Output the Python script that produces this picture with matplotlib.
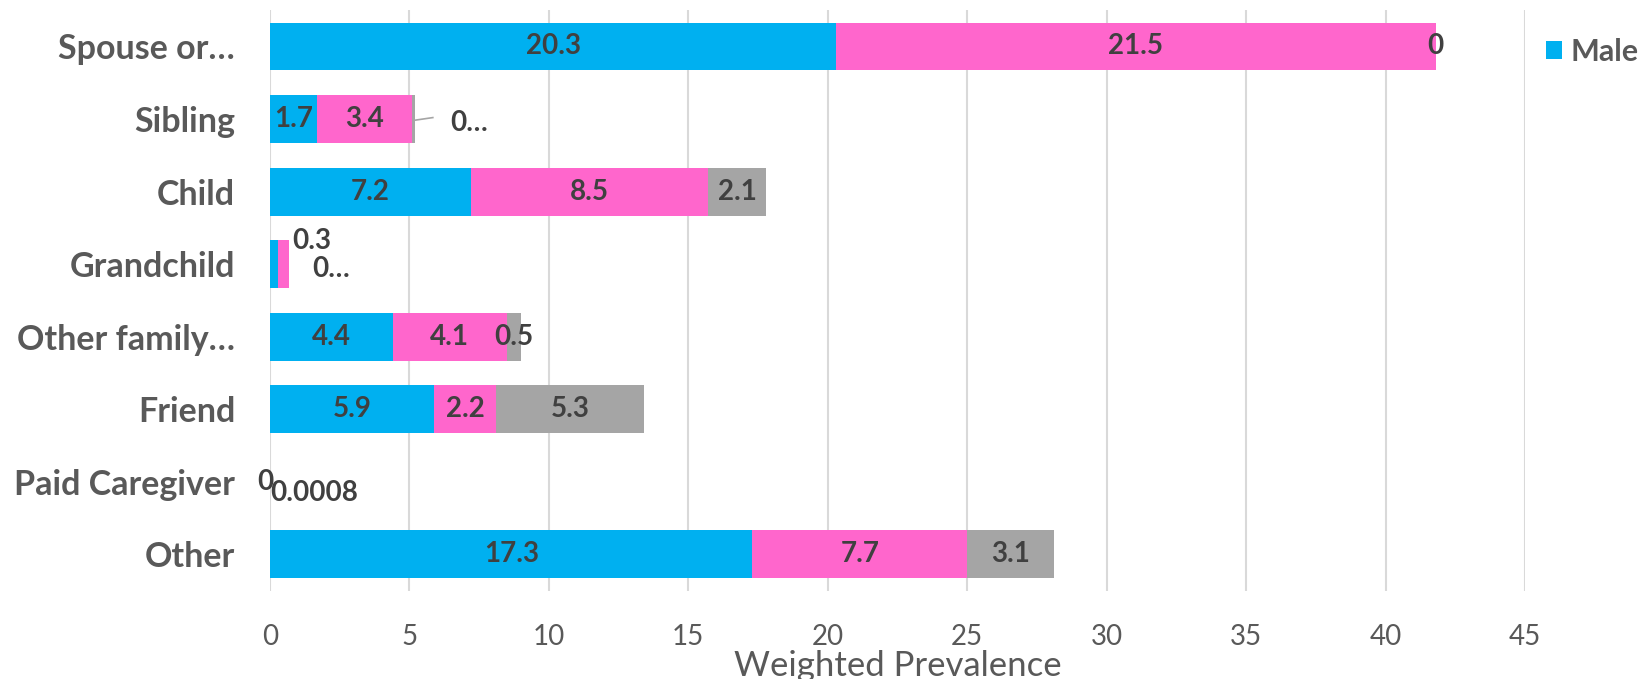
import numpy as np
import matplotlib
matplotlib.use("Agg")
from matplotlib import pyplot as plt

# data
categories = ["Spouse or…", "Sibling", "Child", "Grandchild", "Other family…",
              "Friend", "Paid Caregiver", "Other"]
male = [20.3, 1.7, 7.2, 0.3, 4.4, 5.9, 0.0, 17.3]
female = [21.5, 3.4, 8.5, 0.4, 4.1, 2.2, 0.0008, 7.7]
unknown = [0.0, 0.1, 2.1, 0.0, 0.5, 5.3, 0.0, 3.1]
series_names = ["Male", "Female", "Unknown"]
x_ticks = [0, 5, 10, 15, 20, 25, 30, 35, 40, 45]

colors = ["#00B0F0", "#FF66CC", "#A5A5A5"]
txt_col = "#404040"
tick_col = "#595959"

plt.rcParams['font.family'] = ['Lato', 'DejaVu Sans']

fig = plt.figure(figsize=(16.49, 6.79), dpi=100)
ax = fig.add_axes([0.1637, 0.130, 0.7611, 0.855])

y = np.arange(len(categories))
left = np.zeros(len(categories))
handles = []
for vals, c, name in zip([male, female, unknown], colors, series_names):
    vals = np.array(vals)
    h = ax.barh(y, vals, left=left, height=0.66, color=c, label=name, zorder=3)
    handles.append(h)
    left = left + vals

lab_kw = dict(fontsize=20, fontweight="bold", color=txt_col)

# labels inside the segments (skip the tiny ones, handled below)
special = {1: [2], 3: [0, 1, 2], 6: [0, 1, 2]}
left = np.zeros(len(categories))
for k, vals in enumerate([male, female, unknown]):
    for i, v in enumerate(vals):
        if i in special and k in special[i]:
            continue
        ax.text(left[i] + v / 2, i, f"{v:g}", ha="center", va="center",
                zorder=4, **lab_kw)
    left = left + np.array(vals)

# small labels placed outside
ax.plot([5.13, 5.84], [1.02, 0.98], color="#A5A5A5", lw=1.2, zorder=4)
ax.text(6.45, 1.05, "0…", ha="left", va="center", **lab_kw)
ax.text(0.79, 3 - 0.32, "0.3", ha="left", va="center", **lab_kw)
ax.text(1.5, 3 + 0.07, "0…", ha="left", va="center", **lab_kw)
ax.text(-0.18, 6, "0", ha="center", va="center", **lab_kw)
ax.text(0.0, 6 + 0.15, "0.0008", ha="left", va="center", **lab_kw)

ax.set_xlim(0, 45)
ax.set_ylim(len(categories) - 0.5, -0.5)
ax.set_xticks(x_ticks)
ax.set_xticklabels([str(t) for t in x_ticks])
ax.set_yticks(y)
ax.set_yticklabels(categories, fontweight="bold")
ax.tick_params(axis="y", length=0, pad=25, labelsize=24.5, labelcolor=tick_col)
ax.tick_params(axis="x", length=0, pad=24, labelsize=20, labelcolor=tick_col)
ax.grid(axis="x", color="#D9D9D9", lw=1.5, zorder=0)
for s in ax.spines.values():
    s.set_visible(False)
ax.set_xlabel("Weighted Prevalence", fontsize=25, color=tick_col, labelpad=0)

# legend sits at the right edge, only the first entry fits in the picture
fig.legend(handles=handles[:1], labels=series_names[:1], loc="upper left",
           bbox_to_anchor=(0.921, 0.985), frameon=False,
           prop={"size": 22, "weight": "bold"},
           labelcolor=tick_col, handlelength=0.5, handleheight=0.5,
           handletextpad=0.3)

fig.savefig("out.png", dpi=100)
